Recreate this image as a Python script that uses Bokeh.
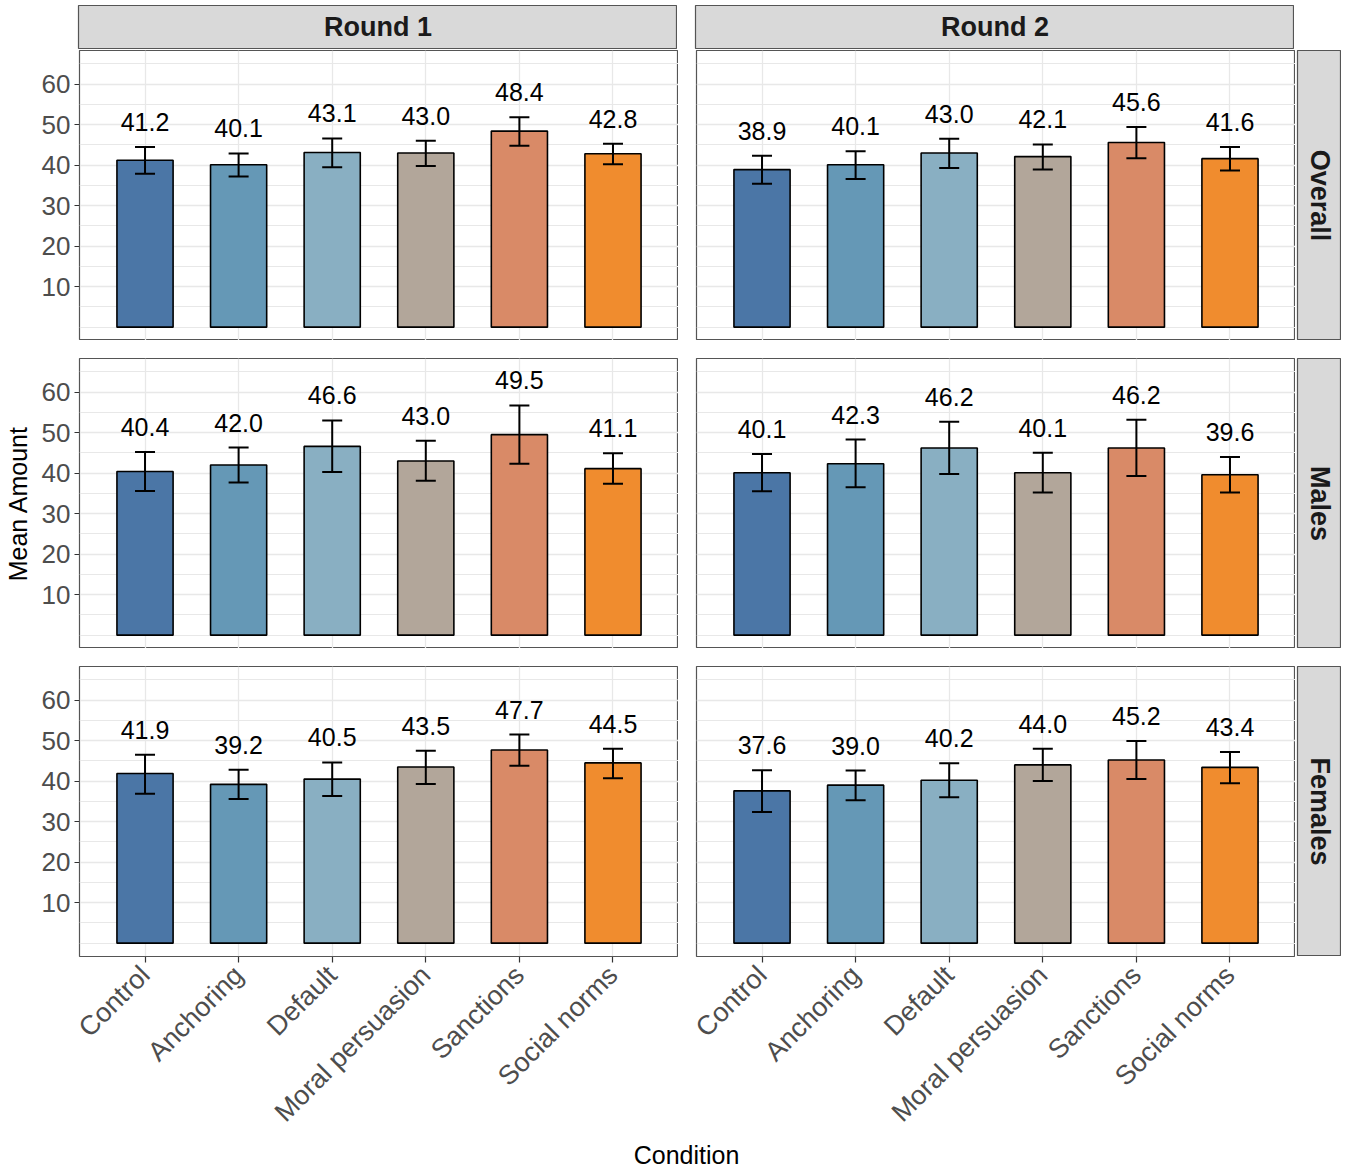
import math
from bokeh.plotting import figure
from bokeh.models import (ColumnDataSource, Whisker, TeeHead, Range1d, FactorRange,
                          FixedTicker, Label)
from bokeh.layouts import column, row
from bokeh.embed import file_html
from bokeh.resources import INLINE
from bokeh.core.properties import value

conditions = ["Control", "Anchoring", "Default", "Moral persuasion", "Sanctions", "Social norms"]
bar_colors = ["#4b76a6", "#6598b6", "#89afc2", "#b2a69a", "#d98a67", "#f08c2e"]
round_labels = ["Round 1", "Round 2"]
group_labels = ["Overall", "Males", "Females"]

r1_overall_mean = [41.2, 40.1, 43.1, 43.0, 48.4, 42.8]
r1_overall_lower = [37.9, 37.2, 39.5, 39.8, 44.8, 40.2]
r1_overall_upper = [44.5, 42.9, 46.6, 46.0, 51.8, 45.3]
r2_overall_mean = [38.9, 40.1, 43.0, 42.1, 45.6, 41.6]
r2_overall_lower = [35.4, 36.6, 39.3, 38.9, 41.7, 38.7]
r2_overall_upper = [42.3, 43.4, 46.5, 45.1, 49.4, 44.5]
r1_males_mean = [40.4, 42.0, 46.6, 43.0, 49.5, 41.1]
r1_males_lower = [35.6, 37.7, 40.3, 38.1, 42.3, 37.4]
r1_males_upper = [45.2, 46.3, 53.0, 48.0, 56.7, 44.9]
r2_males_mean = [40.1, 42.3, 46.2, 40.1, 46.2, 39.6]
r2_males_lower = [35.5, 36.5, 39.8, 35.2, 39.3, 35.2]
r2_males_upper = [44.7, 48.3, 52.7, 45.0, 53.2, 44.0]
r1_females_mean = [41.9, 39.2, 40.5, 43.5, 47.7, 44.5]
r1_females_lower = [36.9, 35.6, 36.3, 39.3, 43.8, 40.7]
r1_females_upper = [46.5, 42.8, 44.6, 47.5, 51.5, 48.0]
r2_females_mean = [37.6, 39.0, 40.2, 44.0, 45.2, 43.4]
r2_females_lower = [32.4, 35.3, 36.0, 40.0, 40.5, 39.5]
r2_females_upper = [42.7, 42.6, 44.4, 48.0, 49.9, 47.2]

y_ticks = [10, 20, 30, 40, 50, 60]
y_minor = [0, 5, 15, 25, 35, 45, 55, 65]

FONT = "Liberation Sans"
FW, FH = 599, 290
LEFT_W = 78
GAP = 18
BORDER = "#555555"
GRID = "#e8e8e8"
BOTTOM_AXIS = 178


def panel(mean, lower, upper, left, bottom, top_gap, ylabel):
    p = figure(x_range=FactorRange(factors=conditions, range_padding=0.2,
                                   range_padding_units="absolute"),
               y_range=Range1d(-3.3, 68.3), frame_width=FW, frame_height=FH,
               output_backend="svg", toolbar_location=None,
               min_border_left=LEFT_W if left else GAP, min_border_right=0,
               min_border_top=top_gap,
               min_border_bottom=BOTTOM_AXIS if bottom else 0)
    p.outline_line_color = BORDER
    p.outline_line_width = 1.2
    src = ColumnDataSource(dict(x=conditions, top=mean, lower=lower, upper=upper,
                                color=bar_colors,
                                label=["%.1f" % v for v in mean]))
    p.vbar(x="x", top="top", bottom=0, width=0.6, fill_color="color",
           line_color="black", line_width=1.6, source=src)
    wh = Whisker(source=src, base="x", upper="upper", lower="lower",
                 line_color="black", line_width=2,
                 upper_head=TeeHead(size=20, line_width=2, line_color="black"),
                 lower_head=TeeHead(size=20, line_width=2, line_color="black"))
    wh.level = "overlay"
    p.add_layout(wh)
    p.text(x="x", y="upper", text="label", source=src, text_align="center",
           text_baseline="bottom", y_offset=-16, text_font=value(FONT),
           text_font_size="25px", text_color="black")

    p.ygrid.ticker = FixedTicker(ticks=y_ticks, minor_ticks=y_minor)
    p.ygrid.grid_line_color = GRID
    p.ygrid.grid_line_width = 1.3
    p.ygrid.minor_grid_line_color = GRID
    p.ygrid.minor_grid_line_width = 1.0
    p.xgrid.grid_line_color = GRID
    p.xgrid.grid_line_width = 1.3

    p.yaxis.ticker = FixedTicker(ticks=y_ticks)
    p.yaxis.axis_line_color = None
    p.yaxis.minor_tick_line_color = None
    p.yaxis.major_tick_in = 0
    p.yaxis.major_tick_out = 5
    p.yaxis.major_tick_line_color = "#333333"
    p.yaxis.major_tick_line_width = 1.2
    p.yaxis.major_label_standoff = 4
    p.yaxis.major_label_text_font = FONT
    p.yaxis.major_label_text_font_size = "26px"
    p.yaxis.major_label_text_color = "#4d4d4d"
    p.yaxis.axis_label = ylabel
    p.yaxis.axis_label_standoff = 7
    p.yaxis.axis_label_text_font = FONT
    p.yaxis.axis_label_text_font_size = "25px"
    p.yaxis.axis_label_text_font_style = "normal"
    p.yaxis.axis_label_text_color = "black"

    p.xaxis.axis_line_color = None
    p.xaxis.major_tick_in = 0
    p.xaxis.major_tick_out = 6
    p.xaxis.major_tick_line_color = "#333333"
    p.xaxis.major_tick_line_width = 1.2
    p.xaxis.major_label_orientation = math.pi / 4
    p.xaxis.major_label_standoff = 8
    p.xaxis.major_label_text_font = FONT
    p.xaxis.major_label_text_font_size = "27px"
    p.xaxis.major_label_text_color = "#4d4d4d"

    if not left:
        p.yaxis.visible = False
    if not bottom:
        p.xaxis.visible = False
    return p


def strip(text, w, h, vertical, left_border, top_border, bottom_border):
    s = figure(x_range=Range1d(0, 1), y_range=Range1d(0, 1), frame_width=w,
               frame_height=h, x_axis_type=None, y_axis_type=None,
               output_backend="svg", toolbar_location=None,
               min_border_left=left_border, min_border_right=0,
               min_border_top=top_border, min_border_bottom=bottom_border)
    s.background_fill_color = "#d9d9d9"
    s.outline_line_color = BORDER
    s.outline_line_width = 1.2
    s.add_layout(Label(x=0.5, y=0.5, text=text, text_align="center",
                       text_baseline="middle",
                       angle=-math.pi / 2 if vertical else 0,
                       text_font=FONT, text_font_style="bold",
                       text_font_size="27px", text_color="#1a1a1a"))
    return s


panels_data = [
    [(r1_overall_mean, r1_overall_lower, r1_overall_upper),
     (r2_overall_mean, r2_overall_lower, r2_overall_upper)],
    [(r1_males_mean, r1_males_lower, r1_males_upper),
     (r2_males_mean, r2_males_lower, r2_males_upper)],
    [(r1_females_mean, r1_females_lower, r1_females_upper),
     (r2_females_mean, r2_females_lower, r2_females_upper)],
]

rows = [row(strip(round_labels[0], FW, 43, False, LEFT_W, 5, 2),
            strip(round_labels[1], FW, 43, False, GAP, 5, 2))]

for i, grp in enumerate(group_labels):
    top_gap = 0 if i == 0 else GAP
    bottom = (i == 2)
    figs = []
    for j in range(2):
        m, lo, up = panels_data[i][j]
        ylabel = ("Mean Amount" if i == 1 else " ") if j == 0 else ""
        figs.append(panel(m, lo, up, j == 0, bottom, top_gap, ylabel))
    figs.append(strip(grp, 44, FH, True, 2, top_gap, 0))
    rows.append(row(*figs))

total_w = LEFT_W + FW + GAP + FW + 46
cond = figure(x_range=Range1d(0, total_w), y_range=Range1d(0, 26),
              frame_width=total_w, frame_height=26,
              x_axis_type=None, y_axis_type=None,
              output_backend="svg", toolbar_location=None,
              min_border_left=0, min_border_right=0, min_border_top=0,
              min_border_bottom=0)
cond.outline_line_color = None
cond.add_layout(Label(x=LEFT_W + FW + GAP / 2, y=13,
                      text="Condition", text_align="center", text_baseline="middle",
                      text_font=FONT, text_font_size="25px", text_color="black"))
rows.append(cond)

layout = column(*rows)
open("out.html", "w").write(file_html(layout, INLINE))
